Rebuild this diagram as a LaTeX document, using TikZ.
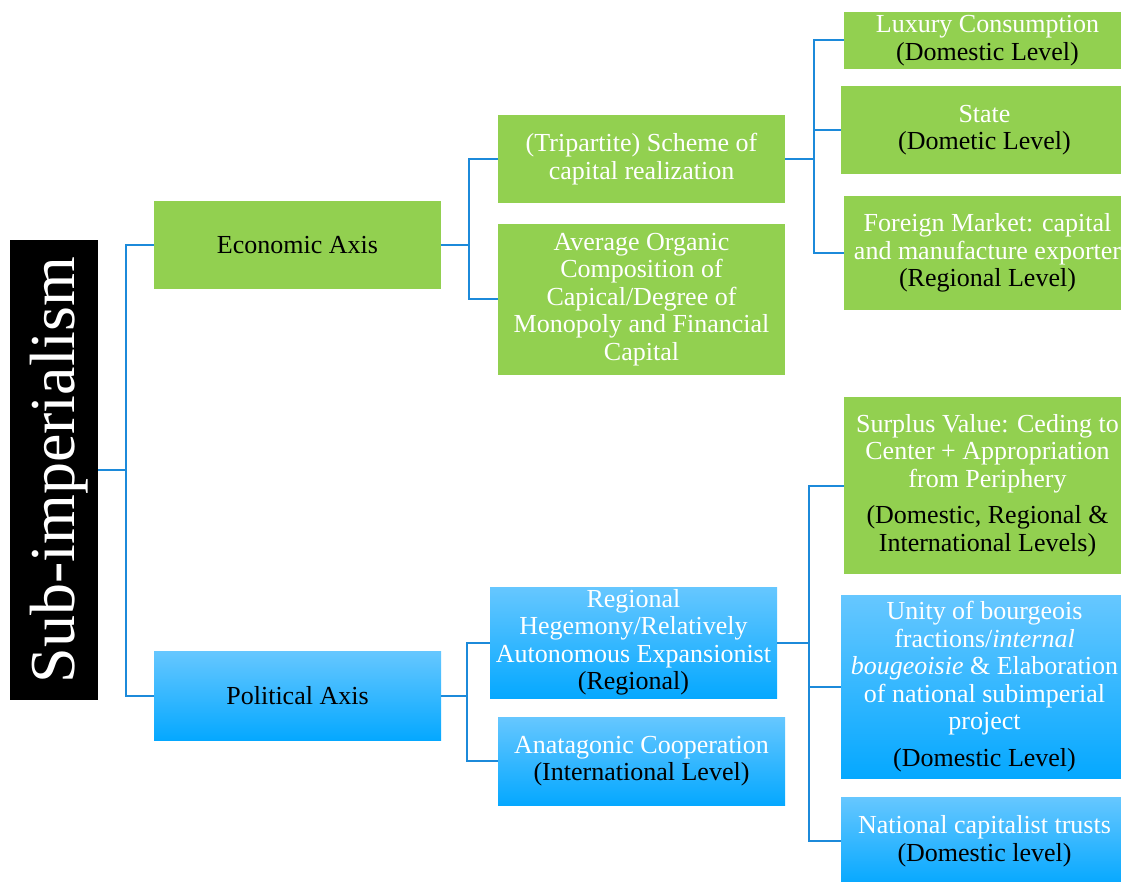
\documentclass[tikz,border=0pt]{standalone}
\usepackage{fontspec}
\setmainfont{Liberation Serif}
\usepackage{tikz}
\usetikzlibrary{positioning}
\definecolor{boxgreen}{RGB}{146,208,80}
\definecolor{bluetop}{RGB}{102,199,255}
\definecolor{bluebot}{RGB}{5,168,255}
\definecolor{linkblue}{RGB}{28,138,218}
\newcommand{\lvl}[1]{\textcolor{black}{#1}}

\begin{document}
\begin{tikzpicture}[
  x=1pt, y=-1pt,
  box/.style={rectangle,inner sep=0pt,align=center,text=white,minimum width=287pt,
    font=\fontsize{26pt}{27.5pt}\selectfont},
  greenbox/.style={box,fill=boxgreen},
  bluebox/.style={box,top color=bluetop,bottom color=bluebot},
  rootbox/.style={rectangle,fill=black,text=white,inner sep=0pt,
    minimum width=88pt,minimum height=460pt,font=\fontsize{64pt}{64pt}\selectfont},
  link/.style={draw=linkblue,line width=2pt}
]
\path[use as bounding box] (0,0) rectangle (1121,882);
\clip (0,0) rectangle (1121,882);

\node[rootbox] (root) at (54,470) {\hspace*{10pt}\rotatebox{90}{Sub-imperialism}};

\node[greenbox,text=black,minimum height=88pt] (eco) at (297.5,245) {Economic Axis};
\node[bluebox,text=black,minimum height=89pt] (pol) at (297.5,695.5) {Political Axis};

\node[greenbox,minimum height=88pt] (trip) at (641.5,159) {(Tripartite) Scheme of\\capital realization};
\node[greenbox,minimum height=151pt] (avg) at (641.5,299.5) {Average Organic\\Composition of\\Capical/Degree of\\Monopoly and Financial\\Capital};
\node[bluebox,minimum height=111pt] (reg) at (633.5,642.5) {Regional\\Hegemony/Relatively\\Autonomous Expansionist\\\lvl{(Regional)}};
\node[bluebox,minimum height=88pt] (anta) at (641.5,761) {Anatagonic Cooperation\\\lvl{(International Level)}};

\node[greenbox,minimum height=57pt] (lux) at (987.5,40.5) {Luxury Consumption\\\lvl{(Domestic Level)}};
\node[greenbox,minimum height=88pt] (state) at (984.5,130) {State\\\lvl{(Dometic Level)}};
\node[greenbox,minimum height=114pt] (foreign) at (987.5,253) {Foreign Market: capital\\and manufacture exporter\\\lvl{(Regional Level)}};
\node[greenbox,minimum height=177pt] (surplus) at (987.5,485.5) {Surplus Value: Ceding to\\Center + Appropriation\\from Periphery\\[9pt]\lvl{(Domestic, Regional \&}\\\lvl{International Levels)}};
\node[bluebox,minimum height=183pt] (unity) at (984.5,686.5) {Unity of bourgeois\\fractions/\textit{internal}\\\textit{bougeoisie} \& Elaboration\\of national subimperial\\project\\[9pt]\lvl{(Domestic Level)}};
\node[bluebox,minimum height=88pt] (trusts) at (984.5,841) {National capitalist trusts\\\lvl{(Domestic level)}};

\draw[link] (root.east) -- ++(28,0) |- (eco.west);
\draw[link] (root.east) -- ++(28,0) |- (pol.west);
\draw[link] (eco.east) -- ++(28,0) |- (trip.west);
\draw[link] (eco.east) -- ++(28,0) |- (avg.west);
\draw[link] (pol.east) -- ++(26,0) |- (reg.west);
\draw[link] (pol.east) -- ++(26,0) |- (anta.west);
\draw[link] (trip.east) -- ++(29,0) |- (lux.west);
\draw[link] (trip.east) -- ++(29,0) |- (state.west);
\draw[link] (trip.east) -- ++(29,0) |- (foreign.west);
\draw[link] (reg.east) -- ++(32,0) |- (surplus.west);
\draw[link] (reg.east) -- ++(32,0) |- (unity.west);
\draw[link] (reg.east) -- ++(32,0) |- (trusts.west);

\end{tikzpicture}
\end{document}
